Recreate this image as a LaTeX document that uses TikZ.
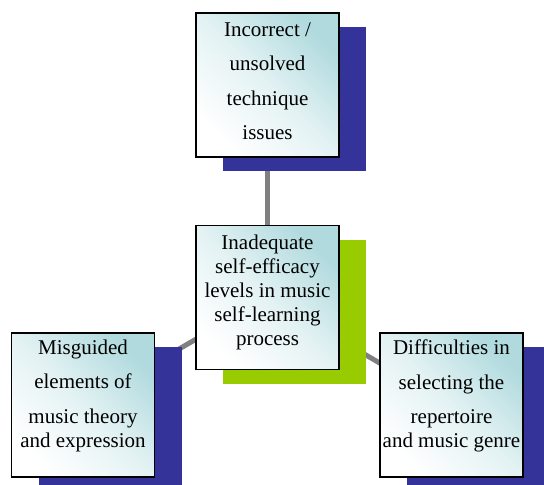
\documentclass[tikz,border=0pt]{standalone}
\usepackage{fontspec}
\setmainfont{Liberation Serif}
\newfontfamily\boxfont{Liberation Serif}
\usetikzlibrary{shadows,backgrounds}

\definecolor{shadowblue}{RGB}{51,51,153}
\definecolor{shadowgreen}{RGB}{153,204,0}
\definecolor{boxteal}{RGB}{176,218,222}
\definecolor{linkgray}{RGB}{128,128,128}

% invisible strut that deepens the last line, lifting the text block
\newcommand{\boxstrut}[1]{\rule[-#1]{0pt}{#1}}

\begin{document}
\begin{tikzpicture}[x=1pt, y=-1pt,
	box/.style={draw=black, line width=1.2pt, top color=boxteal, bottom color=white,
		middle color=boxteal!35!white, shading angle=-45, minimum width=143pt,
		minimum height=144pt, inner sep=0pt, align=center,
		font=\boxfont\fontsize{21}{34.5}\selectfont},
	blue shadow/.style={general shadow={fill=shadowblue, shadow xshift=27pt, shadow yshift=-14pt}},
	green shadow/.style={general shadow={fill=shadowgreen, shadow xshift=27pt, shadow yshift=-14pt}},
	link/.style={draw=linkgray, line width=5pt}]

	\useasboundingbox (0,0) rectangle (544,485);

	% central problem
	\node [box, green shadow, font=\boxfont\fontsize{21}{23.8}\selectfont] (box-core) at (267.5,297.5)
		{Inadequate\\self-efficacy\\levels in music\\self-learning\\process\boxstrut{14.6pt}};

	% causes
	\node [box, blue shadow] (box-top) at (267.5,85)
		{Incorrect /\\unsolved\\technique\\issues\boxstrut{8pt}};
	\node [box, blue shadow] (box-left) at (83,405)
		{Misguided\\elements of\\music theory\\[-10.5pt]and expression\boxstrut{22.6pt}};
	\node [box, blue shadow] (box-right) at (451.5,405)
		{Difficulties in\\selecting the\\repertoire\\[-10.5pt]and music genre\boxstrut{22.6pt}};

	% links from centre to causes
	\begin{scope}[on background layer]
		\foreach \n in {top,left,right}
			\draw [link] (box-core.center) -- (box-\n.center);
	\end{scope}

\end{tikzpicture}
\end{document}
